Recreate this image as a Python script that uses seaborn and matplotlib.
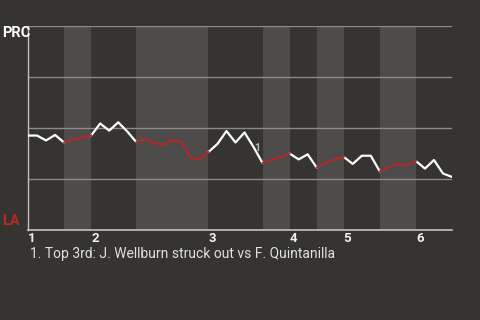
import numpy as np
import pandas as pd
import matplotlib
matplotlib.use("Agg")
import matplotlib.pyplot as plt
import seaborn as sns

# ---- data ----
# win probability for PRC (1 = PRC, 0 = LA) after each plate appearance
prob = [0.463, 0.463, 0.439, 0.466, 0.429, 0.443, 0.453, 0.463,
        0.522, 0.487, 0.528, 0.483, 0.431, 0.444, 0.426, 0.417,
        0.439, 0.431, 0.355, 0.346, 0.382, 0.422, 0.485, 0.429,
        0.478, 0.407, 0.328, 0.346, 0.358, 0.375, 0.346, 0.371,
        0.306, 0.331, 0.346, 0.358, 0.324, 0.364, 0.364, 0.287,
        0.309, 0.324, 0.316, 0.338, 0.301, 0.343, 0.277, 0.260]
# plate-appearance index where each half inning starts (last = current end)
half_starts = [0, 4, 7, 12, 20, 26, 29, 32, 35, 39, 43, 47]
inning_labels = ["1", "2", "3", "4", "5", "6"]
event_pa = [25]
event_labels = ["1"]
caption = "1. Top 3rd: J. Wellburn struck out vs F. Quintanilla"
top_team = "PRC"
bottom_team = "LA"

BG = "#363431"
BAND = "#4e4c4a"
GRID = "#8c8a88"
SPINE = "#c4c2c0"
RED = "#b02a2a"
WHITE = "#ffffff"

# build segment table
rows = []
for h in range(len(half_starts) - 1):
    side = "top" if h % 2 == 0 else "bottom"
    for i in range(half_starts[h], half_starts[h + 1] + 1):
        rows.append({"pa": i, "p": prob[i], "seg": h, "side": side})
df = pd.DataFrame(rows)

sns.set_theme(style="dark")
plt.rcParams['font.family'] = ['Roboto', 'DejaVu Sans']

fig = plt.figure(figsize=(4.8, 3.2), dpi=100, facecolor=BG)
ax = fig.add_axes([28 / 480, 1 - 230 / 320, 424 / 480, 204 / 320])
ax.set_facecolor(BG)

# bottom-half bands
for h in range(1, len(half_starts) - 1, 2):
    ax.axvspan(half_starts[h], half_starts[h + 1], color=BAND, lw=0, zorder=0)

for yv in [0.25, 0.5, 0.75, 1.0]:
    ax.axhline(yv, color=GRID, lw=1.0, zorder=1)

sns.lineplot(data=df, x="pa", y="p", units="seg", hue="side", estimator=None,
             palette={"top": WHITE, "bottom": RED}, lw=1.6, legend=False,
             ax=ax, zorder=3)

for pa, lab in zip(event_pa, event_labels):
    ax.text(pa + 0.05, prob[pa] - 0.005, lab, color="#b8b8b8", fontsize=7.5, fontweight="bold",
            ha="left", va="center", zorder=4)

ax.set_xlim(0, half_starts[-1])
ax.set_ylim(0, 1)
ax.set_xlabel("")
ax.set_ylabel("")
ax.grid(False)
ax.set_yticks([])
inning_starts = half_starts[0:-1:2]
ax.set_xticks(inning_starts)
ax.set_xticklabels(inning_labels, fontsize=9.5, fontweight="bold", color="#f0f0f0", ha="left")
ax.tick_params(axis="x", length=0, pad=1.5)

for s in ["top", "right"]:
    ax.spines[s].set_visible(False)
ax.spines["left"].set_color(SPINE)
ax.spines["bottom"].set_color(SPINE)
ax.spines["left"].set_linewidth(1.0)
ax.spines["bottom"].set_linewidth(1.2)

fig.text(2 / 480, 1 - 33 / 320, top_team, color="#ffffff", fontsize=10.5,
         fontweight="bold", ha="left", va="center")
fig.text(2 / 480, 1 - 221 / 320, bottom_team, color=RED, fontsize=10.5,
         fontweight="bold", ha="left", va="center")
fig.text(30 / 480, 1 - 254 / 320, caption, color="#e0e0e0", fontsize=10,
         ha="left", va="center")

fig.savefig("out.png", dpi=100, facecolor=BG)
